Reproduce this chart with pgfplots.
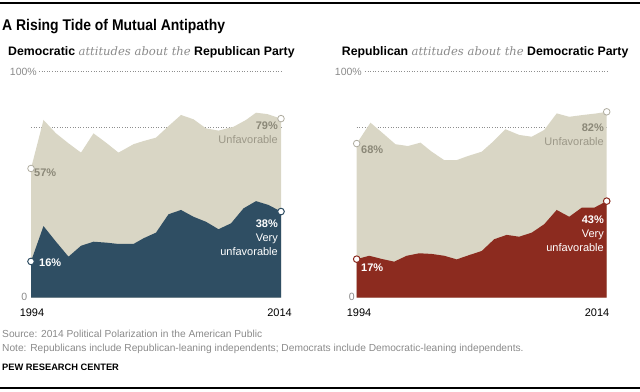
\documentclass[border=0pt]{standalone}
\usepackage{pgfplots}
\pgfplotsset{compat=1.18}
\usepackage{fontspec}
\setmainfont{Liberation Sans}
\newfontfamily\seriffont{DejaVu Serif}
\definecolor{beige}{HTML}{D9D6C5}
\definecolor{navy}{HTML}{2F4E63}
\definecolor{pewred}{HTML}{8C2B1F}
\definecolor{lab}{HTML}{8B8878}
\definecolor{lab2}{HTML}{9C9888}
\definecolor{grid}{HTML}{8E8E8E}
\definecolor{foot}{HTML}{8A8A8A}
\newcommand{\fs}[1]{\fontsize{#1bp}{#1bp}\selectfont}
\tikzset{dotln/.style={grid,line width=0.6pt,dash pattern=on 1bp off 1.6bp}}
\begin{document}
\begin{tikzpicture}
\begin{scope}[x=1bp,y=1bp]
\useasboundingbox (0,0) rectangle (640,391);
% rules
\fill (0,386.7) rectangle (640,388.7);
\fill (0,2.3) rectangle (640,4.3);
% title
\node[anchor=base west,inner sep=0] at (2,361) {\scalebox{0.9}[1]{\fs{15.5}\bfseries A Rising Tide of Mutual Antipathy}};
\node[anchor=base west,inner sep=0] at (8,336) {\fs{12.3}\bfseries Democratic {\seriffont\mdseries\itshape\fs{11.6}\color{foot} attitudes about the} Republican Party};
\node[anchor=base west,inner sep=0] at (341.7,336) {\fs{12.3}\bfseries Republican {\seriffont\mdseries\itshape\fs{11.6}\color{foot} attitudes about the} Democratic Party};
\end{scope}

% ---------- left panel
\begin{axis}[at={(31bp,93.3bp)},anchor=south west,scale only axis,width=250bp,height=226.7bp,
  xmin=1994,xmax=2014,ymin=0,ymax=100,hide axis,clip=false]
\addplot[dotln] coordinates {(1994.64,100) (2014.08,100)};
\addplot[dotln] coordinates {(1994,75) (2014,75)};
\addplot[fill=beige,draw=none] coordinates {
(1994,57) (1995,78.4) (1996,72.5) (1997,68.1) (1998,64) (1999,72.5) (2000,68.4)
(2001,64) (2002.2,67.7) (2003,69.1) (2004,70.6) (2005,75.7) (2006,80.6) (2007,78.7)
(2008,74.7) (2009,73.7) (2010.2,75.4) (2011.2,78.4) (2012,81.6) (2012.9,81) (2014,79)} \closedcycle;
\addplot[fill=navy,draw=none] coordinates {
(1994,16) (1995,31.6) (1996,24.7) (1997,18.1) (1998,22.9) (1999,24.7) (2000,24.3)
(2001,23.7) (2002.2,23.7) (2003,26.2) (2004,28.7) (2005,36.8) (2006,38.7) (2007,35.7)
(2008,33.5) (2009,30.2) (2010,32.8) (2011,39.4) (2012,42.6) (2013,40.9) (2014,38)} \closedcycle;
\addplot[only marks,mark=*,mark size=3.3bp,mark options={fill=white,draw=beige!80!black,line width=0.8pt}] coordinates {(1994,57) (2014,79)};
\addplot[only marks,mark=*,mark size=3.3bp,mark options={fill=white,draw=navy,line width=1pt}] coordinates {(1994,16) (2014,38)};
\end{axis}

% ---------- right panel
\begin{axis}[at={(356.7bp,93.3bp)},anchor=south west,scale only axis,width=250bp,height=226.7bp,
  xmin=1994,xmax=2014,ymin=0,ymax=100,hide axis,clip=false]
\addplot[dotln] coordinates {(1994.66,100) (2014.02,100)};
\addplot[dotln] coordinates {(1994,75) (2014,75)};
\addplot[fill=beige,draw=none] coordinates {
(1994,68) (1995.1,77.2) (1996.1,72.5) (1997.1,67.7) (1998.1,66.9) (1999.1,68.4) (2000,64.4)
(2001,60.7) (2002,60.7) (2002.9,62.5) (2004,64.4) (2004.9,68.8) (2005.9,74.3) (2007,71.8)
(2008,71) (2009,74) (2010,81.3) (2011,79.8) (2012.1,80.6) (2013.2,81.3) (2014,82)} \closedcycle;
\addplot[fill=pewred,draw=none] coordinates {
(1994,17) (1995,18.5) (1996,17.1) (1997,15.9) (1998,18.5) (1999,19.6) (2000,19.3)
(2001,18.5) (2002,16.9) (2003,18.8) (2004,20.6) (2005,25.8) (2006,27.7) (2007,26.9)
(2008,28.7) (2009,32.4) (2010,38.7) (2011,35.7) (2012,39.7) (2013,39.7) (2014,42.6)} \closedcycle;
\addplot[only marks,mark=*,mark size=3.3bp,mark options={fill=white,draw=beige!80!black,line width=0.8pt}] coordinates {(1994,68) (2014,82)};
\addplot[only marks,mark=*,mark size=3.3bp,mark options={fill=white,draw=pewred,line width=1pt}] coordinates {(1994,17) (2014,42.6)};
\end{axis}

% axis labels
\begin{scope}[x=1bp,y=1bp,every node/.style={inner sep=0}]
\node[anchor=base east,text=foot] at (37,315.5) {\fs{10.5}100\%};
\node[anchor=base east,text=foot] at (362,315.5) {\fs{10.5}100\%};
\node[anchor=base east,text=foot] at (27.5,90.5) {\fs{10.5}0};
\node[anchor=base east,text=foot] at (355,90.5) {\fs{10.5}0};
\node[anchor=base] at (32,75) {\fs{11}1994};
\node[anchor=base] at (279.5,75) {\fs{11}2014};
\node[anchor=base] at (359,75) {\fs{11}1994};
\node[anchor=base] at (597,75) {\fs{11}2014};
% left labels
\node[anchor=base west,text=lab] at (34,215) {\fs{11}\bfseries 57\%};
\node[anchor=base east,text=lab] at (278,262) {\fs{11}\bfseries 79\%};
\node[anchor=base east,text=lab2] at (278,248) {\fs{11}Unfavorable};
\node[anchor=base west,text=white] at (39,125) {\fs{11}\bfseries 16\%};
\node[anchor=base east,text=white] at (278,164) {\fs{11}\bfseries 38\%};
\node[anchor=base east,text=white] at (278,150) {\fs{11}Very};
\node[anchor=base east,text=white] at (278,136) {\fs{11}unfavorable};
% right labels
\node[anchor=base west,text=lab] at (361,238) {\fs{11}\bfseries 68\%};
\node[anchor=base east,text=lab] at (604,260) {\fs{11}\bfseries 82\%};
\node[anchor=base east,text=lab2] at (604,246) {\fs{11}Unfavorable};
\node[anchor=base west,text=white] at (361,120) {\fs{11}\bfseries 17\%};
\node[anchor=base east,text=white] at (604,168) {\fs{11}\bfseries 43\%};
\node[anchor=base east,text=white] at (604,154) {\fs{11}Very};
\node[anchor=base east,text=white] at (604,140) {\fs{11}unfavorable};
% footer
\node[anchor=base west,text=foot] at (2,53.5) {\fs{10.2}Source: 2014 Political Polarization in the American Public};
\node[anchor=base west,text=foot] at (2,39.8) {\fs{10.2}Note: Republicans include Republican-leaning independents; Democrats include Democratic-leaning independents.};
\node[anchor=base west] at (2,21) {\fs{9.3}\bfseries PEW RESEARCH CENTER};
\end{scope}
\end{tikzpicture}
\end{document}
